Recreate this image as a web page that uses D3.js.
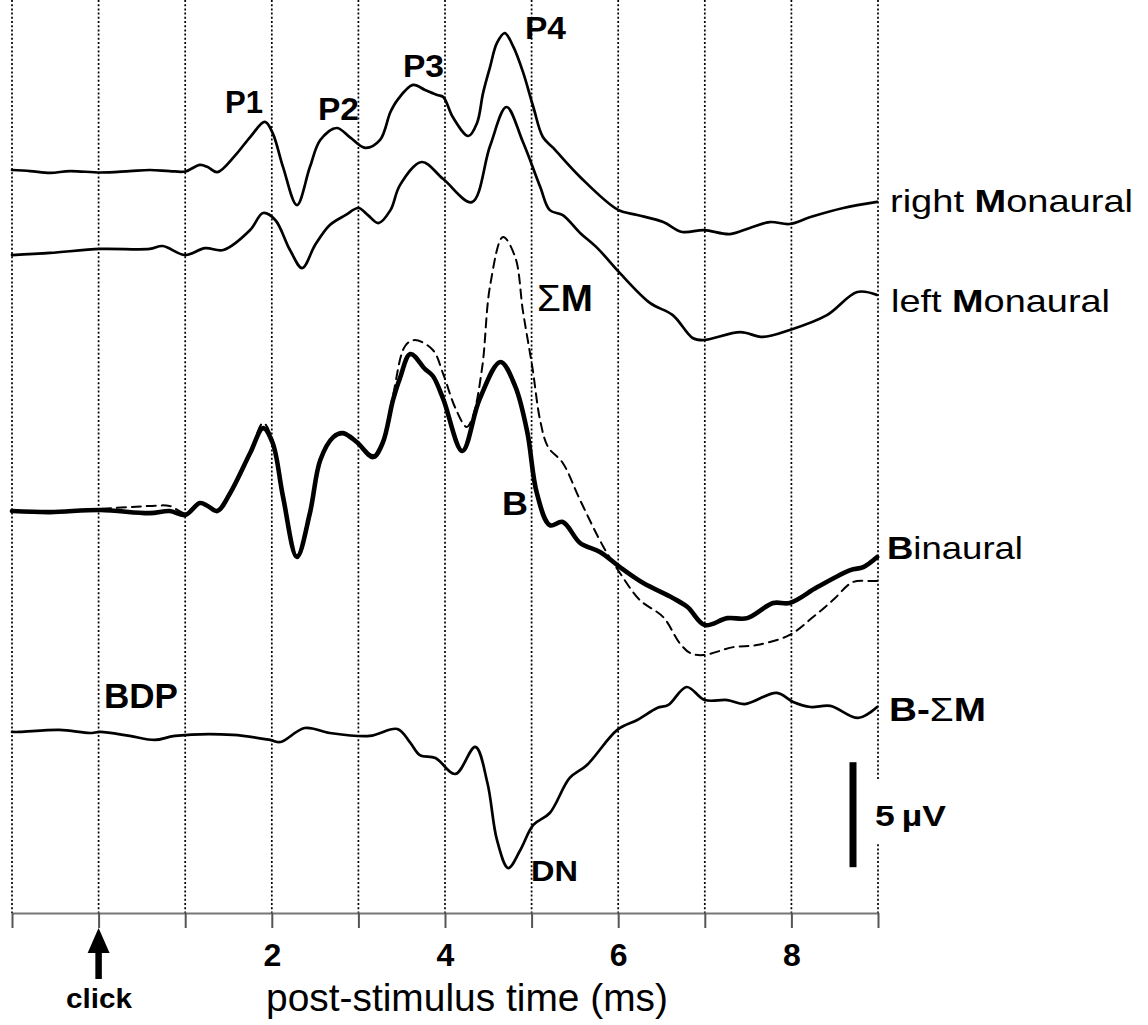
<!DOCTYPE html>
<html><head><meta charset="utf-8">
<script src="https://cdn.jsdelivr.net/npm/d3@7"></script>
<style>body{margin:0;background:#fff} svg{display:block;font-family:"Liberation Sans",Arial,sans-serif}</style>
</head><body><svg id="c" width="1148" height="1025"></svg>
<script>
// ---------- data (time in ms, amplitude in µV relative to each trace's own baseline) ----------
const gridTimes = [-1,0,1,2,3,4,5,6,7,8,9];
const tickLabels = [2,4,6,8];

const rightTime = [-1.00,-0.79,-0.56,-0.33,0.02,0.36,0.59,0.82,1.00,1.17,1.26,1.37,1.58,1.75,1.92,2.01,2.13,2.29,2.44,2.56,2.75,2.90,3.08,3.25,3.37,3.45,3.63,3.77,3.91,3.98,4.09,4.27,4.37,4.44,4.52,4.60,4.69,4.79,4.90,5.02,5.13,5.25,5.56,6.00,6.22,6.52,6.74,6.99,7.29,7.52,7.75,7.98,8.22,8.60,8.99];
const rightVal  = [0,-0.05,-0.14,-0.05,-0.12,-0.05,0,-0.05,-0.07,0.24,0.14,-0.10,0.71,1.57,2.29,1.76,0.14,-1.67,0.14,1.43,2.00,1.57,1.05,1.43,2.76,3.33,4.05,3.81,3.57,3.48,2.52,1.62,2.24,3.67,4.90,6.05,6.52,5.86,4.67,3.00,1.57,1.05,-0.33,-1.90,-2.14,-2.48,-2.95,-2.86,-3.05,-2.76,-2.48,-2.57,-2.24,-1.81,-1.52];

const leftTime = [-1.00,-0.56,0.02,0.59,0.74,1.00,1.23,1.44,1.75,1.90,2.04,2.21,2.35,2.50,2.67,2.85,3.00,3.11,3.23,3.37,3.48,3.73,3.98,4.31,4.52,4.71,4.90,5.10,5.21,5.36,5.56,5.76,6.02,6.37,6.63,6.86,6.98,7.41,7.67,7.98,8.41,8.76,8.99];
const leftVal  = [0,0.10,0.29,0.29,0.43,0,0.33,0.24,1.19,2.00,1.67,0.24,-0.62,0.48,1.43,1.90,2.24,1.90,1.52,2.14,3.33,4.43,3.62,2.52,5.19,7.05,5.38,3.24,2.14,1.90,1.05,0.33,-0.86,-2.29,-2.86,-3.95,-4.05,-3.67,-3.90,-3.57,-2.86,-1.76,-1.90];

const binTime = [-1.00,-0.56,0.02,0.59,0.82,1.00,1.17,1.26,1.37,1.52,1.75,1.90,2.01,2.13,2.29,2.44,2.56,2.71,2.82,2.98,3.17,3.28,3.40,3.48,3.60,3.77,3.86,3.98,4.20,4.40,4.64,4.81,4.95,5.06,5.21,5.36,5.56,5.79,6.02,6.29,6.63,6.80,7.00,7.26,7.49,7.79,7.98,8.30,8.68,8.83,8.99];
const binVal  = [0,-0.05,0.05,-0.10,0,-0.19,0.38,0.24,0,0.86,2.76,3.95,3.24,0.67,-2.19,-0.10,2.43,3.52,3.71,3.29,2.57,3.24,5.29,6.33,7.48,6.76,6.43,5.33,2.86,5.33,7.10,5.95,3.76,0.86,-0.67,-0.52,-1.52,-1.95,-2.67,-3.43,-4.14,-4.57,-5.43,-5.10,-5.10,-4.38,-4.38,-3.62,-2.81,-2.67,-2.19];

const sumTime = [-1.00,-0.56,0.02,0.36,0.59,0.82,1.00,1.17,1.37,1.52,1.75,1.90,2.01,2.13,2.29,2.44,2.56,2.71,2.82,2.98,3.17,3.28,3.40,3.54,3.65,3.86,3.98,4.12,4.25,4.32,4.43,4.52,4.67,4.81,4.90,5.01,5.10,5.19,5.36,5.56,5.83,6.02,6.25,6.52,6.71,6.83,6.98,7.33,7.60,7.98,8.25,8.48,8.71,8.91,8.99];
const sumVal  = [0,-0.05,0.10,0.19,0.24,0.24,-0.10,0.38,0.05,0.86,2.76,4.19,3.38,0.67,-2.10,-0.10,2.43,3.52,3.71,3.33,2.67,3.24,5.52,7.86,8.14,7.67,6.52,4.90,4.00,4.48,6.86,10.71,13.05,12.10,9.52,6.81,4.29,3.05,2.29,0.52,-1.71,-2.95,-4.24,-5.05,-6.29,-6.76,-6.86,-6.48,-6.38,-5.90,-5.05,-4.24,-3.38,-3.33,-3.33];

const diffTime = [-1.00,-0.91,-0.45,-0.10,0.02,0.36,0.65,0.88,1.55,1.98,2.10,2.38,2.67,3.13,3.45,3.60,3.71,3.89,4.12,4.35,4.49,4.60,4.73,4.87,5.02,5.21,5.44,5.64,5.99,6.22,6.45,6.58,6.79,7.00,7.26,7.46,7.83,8.02,8.22,8.45,8.77,8.99];
const diffVal  = [0,0,0.10,-0.05,0,-0.19,-0.38,-0.19,-0.14,-0.38,-0.48,0.19,-0.05,-0.19,0.14,-0.52,-1.10,-1.24,-2.00,-0.71,-2.43,-5.14,-6.48,-5.62,-4.43,-3.86,-2.19,-1.57,0.10,0.57,1.14,1.29,2.14,1.52,1.52,1.33,1.86,1.43,1.19,1.24,0.67,1.19];

const scaleBarUV = 5;

// ---------- layout ----------
const svg = d3.select('#c');
const x = d3.scaleLinear().domain([-1, 9]).range([12, 878]);
const y = d3.scaleLinear().domain([0, -5]).range([170, 275]);   // 21 px per µV
const axisY = 913;

const traceOffsets = { right: 0, left: -4.05, bin: -16.24, diff: -26.76 };

// gridlines
svg.append('g').selectAll('line').data(gridTimes).join('line')
  .attr('x1', d => x(d)).attr('x2', d => x(d))
  .attr('y1', 0).attr('y2', axisY)
  .attr('stroke', '#000').attr('stroke-width', 1.7).attr('stroke-dasharray', '2,2.2');

// axis
const axis = d3.axisBottom(x).tickValues(gridTimes).tickSize(15).tickSizeOuter(0).tickPadding(15)
  .tickFormat(d => tickLabels.includes(d) ? d : '');
const gA = svg.append('g').attr('transform', `translate(0,${axisY})`).call(axis);
gA.select('.domain').attr('stroke', '#777').attr('stroke-width', 2);
gA.selectAll('.tick line').attr('stroke', '#555').attr('stroke-width', 2);
gA.selectAll('.tick text').attr('font-size', 32).attr('font-weight', 'bold')
  .attr('font-family', '"Liberation Sans",Arial,sans-serif').attr('fill', '#000');

// traces
const line = (off) => d3.line()
  .x(d => x(d[0])).y(d => y(d[1] + off))
  .curve(d3.curveCatmullRom.alpha(0.5));
const zip = (a, b) => a.map((t, i) => [t, b[i]]);

const traces = [
  { t: rightTime, v: rightVal, off: traceOffsets.right, w: 2.7, dash: null },
  { t: leftTime,  v: leftVal,  off: traceOffsets.left,  w: 2.7, dash: null },
  { t: sumTime,   v: sumVal,   off: traceOffsets.bin,   w: 2.0, dash: '9,6' },
  { t: binTime,   v: binVal,   off: traceOffsets.bin,   w: 4.6, dash: null },
  { t: diffTime,  v: diffVal,  off: traceOffsets.diff,  w: 2.7, dash: null },
];
traces.forEach(tr => {
  svg.append('path').datum(zip(tr.t, tr.v))
    .attr('d', line(tr.off))
    .attr('fill', 'none').attr('stroke', '#000')
    .attr('stroke-width', tr.w).attr('stroke-linejoin', 'round').attr('stroke-linecap', 'round')
    .attr('stroke-dasharray', tr.dash);
});

// scale bar with white background label
const barTop = y(-28.2), barBot = y(-28.2 - scaleBarUV);
svg.append('rect').attr('x', 870).attr('y', 781).attr('width', 80).attr('height', 61).attr('fill', '#fff');
svg.append('line').attr('x1', 853).attr('x2', 853).attr('y1', barTop).attr('y2', barBot)
  .attr('stroke', '#000').attr('stroke-width', 7);

// labels
function label(parts, xx, yy, size, len, anchor) {
  const t = svg.append('text').attr('x', xx).attr('y', yy).attr('font-size', size)
    .attr('text-anchor', anchor || 'start').attr('fill', '#000');
  if (len) t.attr('textLength', len).attr('lengthAdjust', 'spacingAndGlyphs');
  parts.forEach(p => t.append('tspan').attr('font-weight', p[1] ? 'bold' : 'normal').text(p[0]));
  return t;
}
label([['P1', 1]], 225, 113, 31, 38);
label([['P2', 1]], 318, 120, 31, 41);
label([['P3', 1]], 403, 77, 31, 41);
label([['P4', 1]], 525, 39, 31, 41);
label([['Σ', 0], ['M', 1]], 537, 311, 36, 56);
label([['B', 1]], 502, 515, 34, 26);
label([['DN', 1]], 531, 881, 30, 47);
label([['BDP', 1]], 104, 708, 35, 74);
label([['right ', 0], ['M', 1], ['onaural', 0]], 890, 212, 32, 243);
label([['left ', 0], ['M', 1], ['onaural', 0]], 891, 312, 32, 219);
label([['B', 1], ['inaural', 0]], 887, 559, 32, 136);
label([['B-', 1], ['Σ', 0], ['M', 1]], 889, 721, 34, 97);
label([['5\u2009µV', 1]], 875, 826, 29, 71);
label([['click', 1]], 99, 1008, 28, 66, 'middle');
label([['post-stimulus time (ms)', 0]], 266, 1011, 38, 402);

// click arrow
svg.append('line').attr('x1', x(0)).attr('x2', x(0)).attr('y1', 979).attr('y2', 945)
  .attr('stroke', '#000').attr('stroke-width', 6.5);
svg.append('path')
  .attr('d', `M${x(0)},928 L${x(0) - 11},953 L${x(0) + 11},953 Z`).attr('fill', '#000');
</script></body></html>
